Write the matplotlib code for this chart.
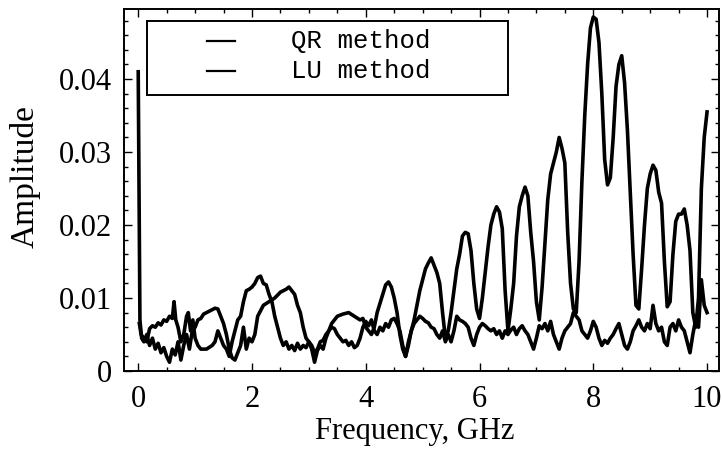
import numpy as np
import matplotlib
matplotlib.use('Agg')
import matplotlib.pyplot as plt
from matplotlib.patches import Rectangle
from matplotlib.ticker import MultipleLocator

# Frequency (GHz) / amplitude
qr_freq = [0.00, 0.03, 0.06, 0.10, 0.15, 0.20, 0.25, 0.30, 0.35, 0.40, 0.45, 0.50, 0.55, 0.60, 0.65,
           0.70, 0.75, 0.80, 0.85, 0.90, 0.95, 1.00, 1.05, 1.10, 1.15, 1.20, 1.25, 1.30, 1.35, 1.40,
           1.45, 1.50, 1.55, 1.60, 1.65, 1.70, 1.75, 1.80, 1.85, 1.90, 1.95, 2.00, 2.05, 2.10, 2.20,
           2.30, 2.40, 2.50, 2.60, 2.65, 2.70, 2.75, 2.80, 2.85, 2.90, 2.95, 3.00, 3.05, 3.10, 3.15,
           3.20, 3.25, 3.30, 3.35, 3.40, 3.50, 3.60, 3.70, 3.80, 3.90, 3.95, 4.00, 4.05, 4.10, 4.15,
           4.20, 4.30, 4.35, 4.40, 4.45, 4.50, 4.55, 4.60, 4.65, 4.70, 4.75, 4.80, 4.85, 4.90, 4.95,
           5.00, 5.05, 5.10, 5.15, 5.20, 5.25, 5.30, 5.35, 5.40, 5.45, 5.50, 5.55, 5.60, 5.65, 5.70,
           5.75, 5.80, 5.85, 5.90, 5.95, 6.00, 6.05, 6.10, 6.15, 6.20, 6.25, 6.30, 6.35, 6.40, 6.45,
           6.50, 6.55, 6.60, 6.65, 6.70, 6.75, 6.80, 6.85, 6.90, 6.95, 7.00, 7.05, 7.10, 7.15, 7.20,
           7.25, 7.30, 7.35, 7.40, 7.45, 7.50, 7.55, 7.60, 7.65, 7.70, 7.75, 7.80, 7.85, 7.90, 7.95,
           8.00, 8.05, 8.10, 8.15, 8.20, 8.25, 8.30, 8.35, 8.40, 8.45, 8.50, 8.55, 8.60, 8.65, 8.70,
           8.75, 8.80, 8.85, 8.90, 8.95, 9.00, 9.05, 9.10, 9.15, 9.20, 9.25, 9.30, 9.35, 9.40, 9.45,
           9.50, 9.55, 9.60, 9.65, 9.70, 9.75, 9.80, 9.85, 9.90, 9.95, 10.00]
qr_amp = [0.0410, 0.0070, 0.0045, 0.0040, 0.0050, 0.0035, 0.0045, 0.0030, 0.0038, 0.0025, 0.0032, 0.0020, 0.0012, 0.0030, 0.0022,
          0.0040, 0.0015, 0.0035, 0.0050, 0.0030, 0.0055, 0.0060, 0.0070, 0.0072, 0.0078, 0.0080, 0.0082, 0.0084, 0.0086, 0.0085,
          0.0075, 0.0065, 0.0050, 0.0030, 0.0018, 0.0015, 0.0025, 0.0035, 0.0060, 0.0030, 0.0045, 0.0040, 0.0050, 0.0075, 0.0090,
          0.0095, 0.0100, 0.0108, 0.0112, 0.0115, 0.0110, 0.0105, 0.0090, 0.0080, 0.0060, 0.0045, 0.0040, 0.0030, 0.0012, 0.0028,
          0.0035, 0.0030, 0.0045, 0.0055, 0.0065, 0.0075, 0.0078, 0.0080, 0.0075, 0.0070, 0.0072, 0.0060, 0.0055, 0.0050, 0.0060,
          0.0080, 0.0105, 0.0118, 0.0122, 0.0115, 0.0100, 0.0080, 0.0050, 0.0030, 0.0020, 0.0035, 0.0055, 0.0070, 0.0090, 0.0110,
          0.0125, 0.0140, 0.0148, 0.0155, 0.0145, 0.0135, 0.0120, 0.0080, 0.0045, 0.0055, 0.0080, 0.0110, 0.0140, 0.0160, 0.0185,
          0.0190, 0.0188, 0.0165, 0.0120, 0.0085, 0.0072, 0.0100, 0.0135, 0.0170, 0.0200, 0.0215, 0.0225, 0.0218, 0.0195, 0.0110,
          0.0055, 0.0085, 0.0120, 0.0185, 0.0225, 0.0240, 0.0252, 0.0240, 0.0190, 0.0150, 0.0095, 0.0070, 0.0115, 0.0175, 0.0235,
          0.0270, 0.0285, 0.0300, 0.0320, 0.0305, 0.0285, 0.0190, 0.0120, 0.0085, 0.0080, 0.0150, 0.0260, 0.0350, 0.0420, 0.0470,
          0.0485, 0.0482, 0.0450, 0.0380, 0.0290, 0.0255, 0.0265, 0.0320, 0.0390, 0.0420, 0.0432, 0.0395, 0.0330, 0.0245, 0.0160,
          0.0090, 0.0085, 0.0140, 0.0200, 0.0250, 0.0270, 0.0282, 0.0275, 0.0245, 0.0230, 0.0150, 0.0088, 0.0095, 0.0160, 0.0205,
          0.0215, 0.0215, 0.0222, 0.0200, 0.0165, 0.0080, 0.0060, 0.0100, 0.0250, 0.0320, 0.0355]

lu_freq = [0.02, 0.05, 0.10, 0.15, 0.20, 0.25, 0.30, 0.35, 0.40, 0.45, 0.50, 0.55, 0.60, 0.63, 0.66,
           0.70, 0.75, 0.80, 0.85, 0.88, 0.92, 0.96, 1.00, 1.05, 1.10, 1.20, 1.30, 1.35, 1.40, 1.45,
           1.50, 1.55, 1.60, 1.65, 1.70, 1.75, 1.80, 1.85, 1.90, 1.95, 2.00, 2.05, 2.10, 2.15, 2.20,
           2.25, 2.30, 2.35, 2.40, 2.45, 2.50, 2.55, 2.60, 2.65, 2.70, 2.75, 2.80, 2.85, 2.90, 2.95,
           3.00, 3.05, 3.10, 3.15, 3.20, 3.25, 3.30, 3.35, 3.40, 3.45, 3.50, 3.55, 3.60, 3.65, 3.70,
           3.75, 3.80, 3.85, 3.90, 3.95, 4.00, 4.05, 4.10, 4.15, 4.20, 4.25, 4.30, 4.35, 4.40, 4.45,
           4.50, 4.55, 4.60, 4.65, 4.70, 4.75, 4.80, 4.85, 4.90, 4.95, 5.00, 5.05, 5.10, 5.15, 5.20,
           5.25, 5.30, 5.35, 5.40, 5.45, 5.50, 5.55, 5.60, 5.65, 5.70, 5.75, 5.80, 5.85, 5.90, 5.95,
           6.00, 6.05, 6.10, 6.15, 6.20, 6.25, 6.30, 6.35, 6.40, 6.45, 6.50, 6.55, 6.60, 6.65, 6.70,
           6.75, 6.80, 6.85, 6.90, 6.95, 7.00, 7.05, 7.10, 7.15, 7.20, 7.25, 7.30, 7.35, 7.40, 7.45,
           7.50, 7.55, 7.60, 7.65, 7.70, 7.75, 7.80, 7.85, 7.90, 7.95, 8.00, 8.05, 8.10, 8.15, 8.20,
           8.25, 8.30, 8.35, 8.40, 8.45, 8.50, 8.55, 8.60, 8.65, 8.70, 8.75, 8.80, 8.85, 8.90, 8.95,
           9.00, 9.05, 9.10, 9.15, 9.20, 9.25, 9.30, 9.35, 9.40, 9.45, 9.50, 9.55, 9.60, 9.65, 9.70,
           9.75, 9.80, 9.85, 9.90, 9.95, 10.00]
lu_amp = [0.0065, 0.0050, 0.0045, 0.0040, 0.0058, 0.0062, 0.0060, 0.0066, 0.0063, 0.0070, 0.0068, 0.0075, 0.0072, 0.0095, 0.0070,
          0.0060, 0.0040, 0.0050, 0.0075, 0.0080, 0.0055, 0.0070, 0.0045, 0.0035, 0.0030, 0.0030, 0.0035, 0.0040, 0.0055, 0.0045,
          0.0035, 0.0030, 0.0020, 0.0040, 0.0055, 0.0070, 0.0075, 0.0095, 0.0110, 0.0112, 0.0115, 0.0120, 0.0128, 0.0130, 0.0120,
          0.0118, 0.0105, 0.0095, 0.0075, 0.0060, 0.0045, 0.0035, 0.0040, 0.0030, 0.0035, 0.0028, 0.0038, 0.0030, 0.0035, 0.0032,
          0.0040, 0.0035, 0.0025, 0.0030, 0.0040, 0.0042, 0.0050, 0.0055, 0.0060, 0.0058, 0.0050, 0.0045, 0.0040, 0.0042, 0.0035,
          0.0040, 0.0032, 0.0035, 0.0045, 0.0060, 0.0068, 0.0062, 0.0070, 0.0055, 0.0050, 0.0060, 0.0055, 0.0065, 0.0060, 0.0070,
          0.0072, 0.0065, 0.0055, 0.0035, 0.0020, 0.0040, 0.0055, 0.0065, 0.0070, 0.0075, 0.0072, 0.0068, 0.0066, 0.0060, 0.0058,
          0.0050, 0.0045, 0.0055, 0.0040, 0.0050, 0.0040, 0.0055, 0.0075, 0.0070, 0.0068, 0.0065, 0.0060, 0.0045, 0.0035, 0.0050,
          0.0060, 0.0065, 0.0062, 0.0058, 0.0055, 0.0058, 0.0050, 0.0055, 0.0045, 0.0055, 0.0050, 0.0056, 0.0060, 0.0050, 0.0058,
          0.0062, 0.0055, 0.0050, 0.0040, 0.0030, 0.0045, 0.0062, 0.0058, 0.0065, 0.0055, 0.0068, 0.0050, 0.0040, 0.0030, 0.0045,
          0.0055, 0.0060, 0.0065, 0.0080, 0.0075, 0.0070, 0.0055, 0.0050, 0.0045, 0.0055, 0.0068, 0.0060, 0.0045, 0.0035, 0.0042,
          0.0038, 0.0045, 0.0050, 0.0058, 0.0065, 0.0050, 0.0035, 0.0030, 0.0040, 0.0055, 0.0062, 0.0070, 0.0060, 0.0055, 0.0065,
          0.0058, 0.0090, 0.0065, 0.0055, 0.0060, 0.0040, 0.0035, 0.0060, 0.0065, 0.0055, 0.0070, 0.0060, 0.0055, 0.0040, 0.0025,
          0.0050, 0.0070, 0.0060, 0.0125, 0.0090, 0.0080]

labels = ['QR method', 'LU method']

serif = ['Liberation Serif', 'DejaVu Serif']
mono = ['Liberation Mono', 'DejaVu Sans Mono']

fig = plt.figure(figsize=(7.22, 4.58), dpi=100)
ax = fig.add_axes([124 / 722, 1 - 371 / 458, 595 / 722, 362 / 458])

ax.plot(qr_freq, qr_amp, color='black', lw=2.6, solid_joinstyle='round')
ax.plot(lu_freq, lu_amp, color='black', lw=2.6, solid_joinstyle='round')

ax.set_xlim(-0.25, 10.21)
ax.set_ylim(0, 0.0496)

ax.xaxis.set_major_locator(MultipleLocator(2))
ax.xaxis.set_minor_locator(MultipleLocator(0.5))
ax.yaxis.set_minor_locator(MultipleLocator(0.002))
ax.set_yticks([0, 0.01, 0.02, 0.03, 0.04])
ax.set_yticklabels(['0', '0.01', '0.02', '0.03', '0.04'])

ax.tick_params(which='both', direction='in', top=True, right=True, width=1.0)
ax.tick_params(which='major', length=6)
ax.tick_params(which='minor', length=3)
ax.tick_params(axis='x', pad=10)
ax.tick_params(axis='y', pad=9)
for lab in ax.get_xticklabels() + ax.get_yticklabels():
    lab.set_fontfamily(serif)
    lab.set_fontsize(22)

for sp in ax.spines.values():
    sp.set_linewidth(1.4)

ax.set_xlabel('Frequency, GHz', family=serif, fontsize=22)
ax.set_ylabel('Amplitude', family=serif, fontsize=24)
ax.xaxis.set_label_coords(0.489, -0.128)
ax.yaxis.set_label_coords(-0.14, 0.536)

# legend box drawn by hand to match the original proportions
ax.add_patch(Rectangle((0.0387, 0.762), 0.606, 0.205, transform=ax.transAxes,
                       fill=False, lw=1.4, ec='black'))
for yy, lab in zip([0.912, 0.829], labels):
    ax.plot([0.1395, 0.1866], [yy, yy], color='black', lw=1.6, transform=ax.transAxes)
    ax.text(0.28, yy, lab, transform=ax.transAxes, family=mono, fontsize=18.5,
            va='center', ha='left')

fig.savefig('out.png', dpi=100)
